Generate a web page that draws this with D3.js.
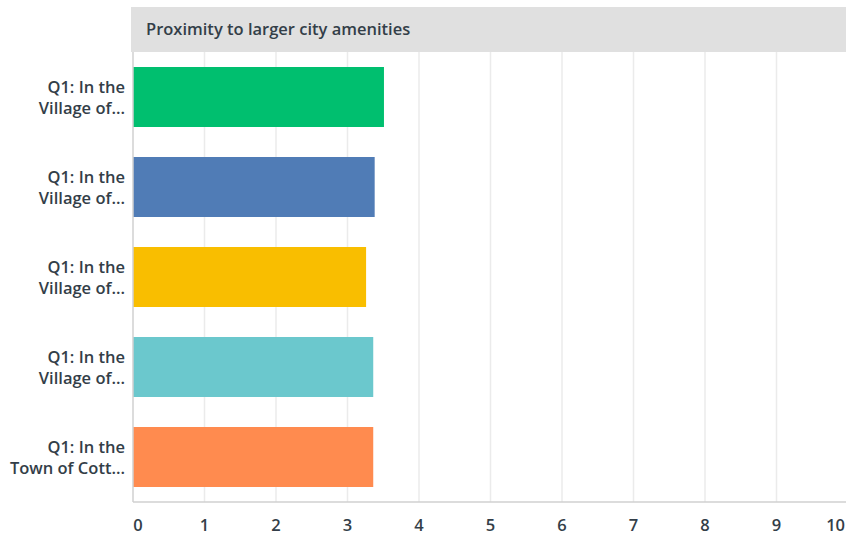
<!DOCTYPE html>
<html>
<head>
<meta charset="utf-8">
<script src="https://cdn.jsdelivr.net/npm/d3@7"></script>
<style>
  body { margin: 0; background: #fff; }
  svg { display: block; font-family: 'Open Sans', sans-serif; }
</style>
</head>
<body>
<div id="chart"></div>
<script>
const title = 'Proximity to larger city amenities'
const categories = [
  ['Q1: In the', 'Village of...'],
  ['Q1: In the', 'Village of...'],
  ['Q1: In the', 'Village of...'],
  ['Q1: In the', 'Village of...'],
  ['Q1: In the', 'Town of Cott...']
]
const values = [3.51, 3.38, 3.26, 3.36, 3.36]
const colors = ['#00bf6f', '#507cb6', '#f9be00', '#6bc8cd', '#ff8b4f']
const ticks = [0, 1, 2, 3, 4, 5, 6, 7, 8, 9, 10]

const width = 846
const height = 537
const margin = { top: 52, right: -2, bottom: 35, left: 133 }
const textColor = '#333e48'
const fontSize = 16.5

const svg = d3.select('#chart').append('svg')
  .attr('width', width)
  .attr('height', height)

const x = d3.scaleLinear()
  .domain([0, 10])
  .range([margin.left, width - margin.right])

const y = d3.scaleBand()
  .domain(d3.range(categories.length))
  .range([margin.top, height - margin.bottom])
  .paddingInner(1 / 3)
  .paddingOuter(1 / 6)

// header band
svg.append('rect')
  .attr('x', margin.left - 2)
  .attr('y', 7)
  .attr('width', width - margin.left + 2)
  .attr('height', margin.top - 7)
  .attr('fill', '#e0e0e0')
svg.append('text')
  .attr('x', margin.left + 13)
  .attr('y', 35)
  .attr('fill', textColor)
  .attr('font-size', fontSize)
  .attr('font-weight', 600)
  .text(title)

// grid
svg.append('g')
  .selectAll('line')
  .data(ticks.slice(1))
  .enter()
  .append('line')
  .attr('x1', d => x(d))
  .attr('x2', d => x(d))
  .attr('y1', margin.top)
  .attr('y2', height - margin.bottom)
  .attr('stroke', '#ebebeb')
  .attr('stroke-width', 1.5)

// bars
svg.append('g')
  .selectAll('rect')
  .data(values)
  .enter()
  .append('rect')
  .attr('x', x(0))
  .attr('y', (d, i) => y(i))
  .attr('width', d => x(d) - x(0))
  .attr('height', y.bandwidth())
  .attr('fill', (d, i) => colors[i])

// axis lines
svg.append('line')
  .attr('x1', x(0)).attr('x2', x(0))
  .attr('y1', margin.top).attr('y2', height - margin.bottom)
  .attr('stroke', '#d0d0d0').attr('stroke-width', 1.5)
svg.append('line')
  .attr('x1', x(0)).attr('x2', width)
  .attr('y1', height - margin.bottom).attr('y2', height - margin.bottom)
  .attr('stroke', '#d0d0d0').attr('stroke-width', 1.5)

// category labels
const labels = svg.append('g')
  .selectAll('text')
  .data(categories)
  .enter()
  .append('text')
  .attr('text-anchor', 'end')
  .attr('fill', textColor)
  .attr('font-size', fontSize)
  .attr('font-weight', 600)
labels.selectAll('tspan')
  .data((d, i) => d.map(s => ({ s, i })))
  .enter()
  .append('tspan')
  .attr('x', margin.left - 8)
  .attr('y', (d, j) => y(d.i) + y.bandwidth() / 2 - 4 + j * 21)
  .text(d => d.s)

// tick labels
const last = ticks.length - 1
svg.append('g')
  .selectAll('text')
  .data(ticks)
  .enter()
  .append('text')
  .attr('x', (d, i) => i === 0 ? x(d) + 5 : i === last ? width - 1 : x(d))
  .attr('y', 531)
  .attr('text-anchor', (d, i) => i === last ? 'end' : 'middle')
  .attr('fill', textColor)
  .attr('font-size', fontSize)
  .attr('font-weight', 600)
  .text(d => d)
</script>
</body>
</html>
